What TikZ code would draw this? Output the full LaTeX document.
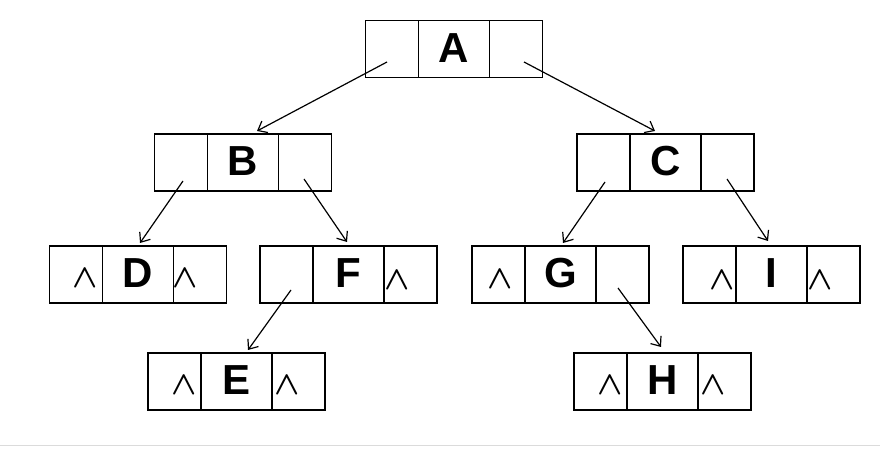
\documentclass[tikz,border=0pt]{standalone}
\usepackage{fontspec}
\setmainfont{Liberation Sans}
\usetikzlibrary{arrows.meta,calc}

\tikzset{
  cellbase/.style={draw, line width=1.4pt, inner sep=0pt, outer sep=0pt, minimum height=57pt},
  midcell/.style={cellbase, minimum width=71pt, font=\fontsize{42}{42}\selectfont\bfseries,
                  text height=30pt, text depth=3pt},
  sidecell/.style={cellbase, minimum width=53pt},
  nil/.style={inner sep=0pt},
  link/.style={line width=1.2pt, -{Straight Barb[length=8pt,width=13pt,line width=1.2pt]}},
}

% a three-field record: left pointer, key, right pointer
\newcommand{\treerec}[4]{%
  \node[midcell] (#1) at (#2,#3) {#4};
  \node[sidecell, anchor=east] (#1-l) at (#1.west) {};
  \node[sidecell, anchor=west] (#1-r) at (#1.east) {};
}
% empty-pointer mark
\newcommand{\nilmark}[3]{\node[nil, anchor=base] (#1) at (#2,#3) {\scalebox{3.3}{\boldmath$\wedge$}};}

\begin{document}
\begin{tikzpicture}[x=1pt,y=1pt]
  \useasboundingbox (0,0) rectangle (880,449);

  \treerec{A}{454}{400}{A}
  \treerec{B}{243}{286.5}{B}
  \treerec{C}{665.5}{286.5}{C}
  \treerec{D}{138}{174.5}{D}
  \treerec{F}{348.5}{174.5}{F}
  \treerec{G}{560.5}{174.5}{G}
  \treerec{I}{771.5}{174.5}{I}
  \treerec{E}{236.5}{67.5}{E}
  \treerec{H}{662.5}{67.5}{H}

  \nilmark{D-ln}{85}{161}
  \nilmark{D-rn}{185}{161}
  \nilmark{F-rn}{397.5}{159}
  \nilmark{G-ln}{500}{160}
  \nilmark{I-ln}{722.5}{159}
  \nilmark{I-rn}{820}{159}
  \nilmark{E-ln}{184}{54}
  \nilmark{E-rn}{287}{54}
  \nilmark{H-ln}{610.5}{54}
  \nilmark{H-rn}{713.5}{54}

  \draw[link] ($(A-l)+(-5,-13)$) -- ($(B.north)+(14,3)$);
  \draw[link] ($(A-r)+(8,-13)$) -- ($(C.north)+(-10.5,3)$);
  \draw[link] ($(B-l)+(2,-18.5)$) -- ($(D.north)+(2,3)$);
  \draw[link] ($(B-r)+(-1,-16.5)$) -- ($(F.north)+(-1.5,4)$);
  \draw[link] ($(C-l)+(1.5,-19.5)$) -- ($(G.north)+(2.5,3)$);
  \draw[link] ($(C-r)+(-0.5,-16.5)$) -- ($(I.north)+(-3.5,5)$);
  \draw[link] ($(F-l)+(4.5,-15.5)$) -- ($(E.north)+(11.5,3)$);
  \draw[link] ($(G-r)+(-4.5,-13.5)$) -- ($(H.north)+(-1.5,6)$);

  % thin rule along the foot
  \coordinate (ruleL) at (0,3);
  \coordinate (ruleR) at (880,3);
  \draw[black!14, line width=1pt] (ruleL) -- (ruleR);
\end{tikzpicture}
\end{document}
